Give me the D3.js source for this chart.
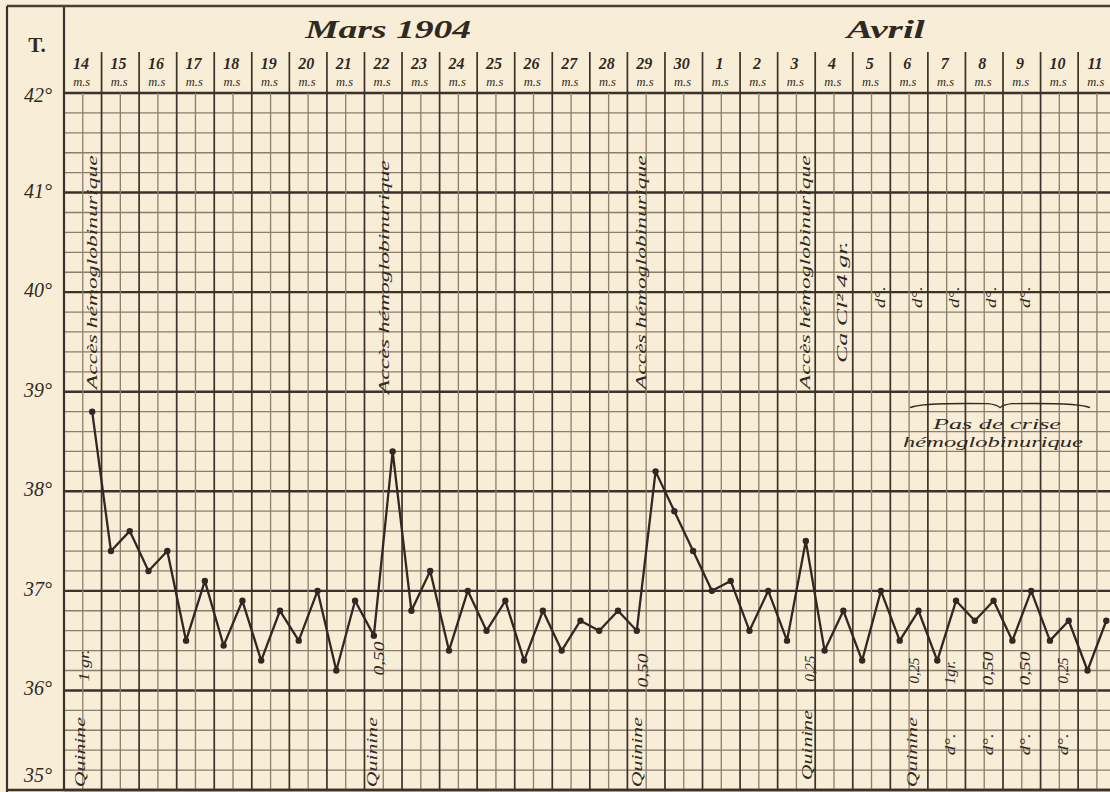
<!DOCTYPE html>
<html>
<head>
<meta charset="utf-8">
<script src="https://cdn.jsdelivr.net/npm/d3@7"></script>
<style>
  html, body { margin: 0; padding: 0; background: #f8edd6; }
  svg { display: block; }
  .hand { font-family: "Liberation Serif", "DejaVu Serif", serif; font-style: italic; fill: #2f2922; }
</style>
</head>
<body>
<svg id="chart" width="1110" height="792"></svg>
<script>
// Day columns of the sheet (March 14–30, April 1–11)
const days = ["14","15","16","17","18","19","20","21","22","23","24","25","26","27","28","29","30",
              "1","2","3","4","5","6","7","8","9","10","11"];
// Morning / evening temperatures, one pair per day (null = not taken)
const morning = [null,37.4,37.2,36.5,36.45,36.3,36.5,36.2,36.55,36.8,36.4,36.6,36.3,36.4,36.6,36.6,37.8,
                 37.0,36.6,36.5,36.4,36.3,36.5,36.3,36.7,36.5,36.5,36.2];
const evening = [38.8,37.6,37.4,37.1,36.9,36.8,37.0,36.9,38.4,37.2,37.0,36.9,36.8,36.7,36.8,38.2,37.4,
                 37.1,37.0,37.5,36.8,37.0,36.8,36.9,36.9,37.0,36.7,36.7];
const tempTicks = [35,36,37,38,39,40,41,42];
// Month headings, anchored on a day position
const months = [["Mars 1904", 8.63], ["Avril", 21.88]];

// Notes written upright: [day position, text, temperature at the middle of the text]
const crisisNotes = [
  [0.78,"Accès hémoglobinurique",40.2],
  [8.55,"Accès hémoglobinurique",40.15],
  [15.4,"Accès hémoglobinurique",40.2],
  [19.76,"Accès hémoglobinurique",40.2],
  [20.74,"Ca Cl² 4 gr.",39.9],
  [21.76,"d°.",39.95],[22.74,"d°.",39.95],[23.72,"d°.",39.95],[24.72,"d°.",39.95],[25.6,"d°.",39.95]
];
const doseNotes = [
  [0.45,"Quinine",35.38],[0.55,"1 gr.",36.25],
  [8.24,"Quinine",35.38],[8.42,"0,50",36.32],
  [15.27,"Quinine",35.38],[15.43,"0,50",36.2],
  [19.8,"Quinine",35.45],[19.9,"0,25",36.22],
  [22.6,"Quinine",35.38],[22.66,"0,25",36.2],
  [23.62,"1gr.",36.18],[23.62,"d°.",35.46],
  [24.64,"0,50",36.22],[24.62,"d°.",35.46],
  [25.62,"0,50",36.22],[25.62,"d°.",35.46],
  [26.62,"0,25",36.2],[26.62,"d°.",35.46]
];
const noteTitle = ["Pas de crise", "hémoglobinurique"];

// Stretched handwriting lengths (px) per kind of note
const noteLength = { "Accès hémoglobinurique": 234, "Ca Cl² 4 gr.": 122, "Quinine": 70,
                     "d°.": 22, "1 gr.": 32, "1gr.": 24, "0,50": 34, "0,25": 26 };

const svg = d3.select("#chart");
const ink = "#2f2922";
const nDays = days.length;

// Scales: day positions across, degrees up
const x = d3.scaleLinear().domain([0, nDays]).range([64, 64 + nDays * 37.56]);
const y = d3.scaleLinear().domain([35, 42]).range([790, 93]);
const slotX = (i, half) => x(i + half * 0.5 + 0.25);

// Sheet grid: fine lines every 0.2°, strong lines every degree
const g = svg.append("g");
const hLines = d3.range(0, 36).map(k => +(35 + k * 0.2).toFixed(1));
g.selectAll("line.h").data(hLines).join("line").attr("class", "h")
  .attr("x1", x(0)).attr("x2", 1110)
  .attr("y1", d => y(d)).attr("y2", d => y(d))
  .attr("stroke-width", d => Number.isInteger(d) ? 2.4 : 1.3)
  .attr("stroke", d => Number.isInteger(d) ? "#3b3229" : "#8a7e6c");

// Half-day verticals inside the plot, day verticals reaching up into the header
g.selectAll("line.vh").data(d3.range(nDays)).join("line").attr("class", "vh")
  .attr("x1", d => x(d + 0.5)).attr("x2", d => x(d + 0.5))
  .attr("y1", y(42)).attr("y2", y(35))
  .attr("stroke", "#8a7e6c").attr("stroke-width", 1.3);
g.selectAll("line.vd").data(d3.range(nDays + 1)).join("line").attr("class", "vd")
  .attr("x1", d => x(d)).attr("x2", d => x(d))
  .attr("y1", d => d === 0 ? 7 : 52).attr("y2", y(35))
  .attr("stroke", "#3b3229").attr("stroke-width", d => d === 0 ? 2.2 : 1.7);

// Frame
svg.append("line").attr("x1", 7).attr("x2", 1110).attr("y1", 6).attr("y2", 6)
  .attr("stroke", "#4a4036").attr("stroke-width", 2.5);
svg.append("line").attr("x1", 7).attr("x2", 7).attr("y1", 6).attr("y2", 792)
  .attr("stroke", "#3b3229").attr("stroke-width", 2.2);
svg.append("line").attr("x1", 7).attr("x2", 1110).attr("y1", 790).attr("y2", 790)
  .attr("stroke", "#3b3229").attr("stroke-width", 2.4);

// Header texts
svg.append("text").attr("class", "hand").attr("x", 37).attr("y", 52)
  .attr("text-anchor", "middle").attr("font-size", 21).attr("font-weight", "bold")
  .style("font-style", "normal").text("T.");
svg.selectAll("text.month").data(months).join("text").attr("class", "hand month")
  .attr("x", d => x(d[1])).attr("y", 38).attr("text-anchor", "middle")
  .attr("font-size", 25).attr("font-weight", "bold")
  .attr("textLength", d => d[0] === "Avril" ? 78 : 166).attr("lengthAdjust", "spacingAndGlyphs")
  .text(d => d[0]);
svg.selectAll("text.day").data(days).join("text").attr("class", "hand day")
  .attr("x", (d, i) => x(i + 0.45)).attr("y", 69).attr("text-anchor", "middle")
  .attr("font-size", 16).attr("font-weight", "bold").text(d => d);
svg.selectAll("text.ms").data(days).join("text").attr("class", "hand ms")
  .attr("x", (d, i) => x(i + 0.47)).attr("y", 86).attr("text-anchor", "middle")
  .attr("font-size", 12.5).text("m.s");

// Temperature labels in the left margin
svg.selectAll("text.tlab").data(tempTicks).join("text").attr("class", "hand tlab")
  .attr("x", 38).attr("y", d => d === 35 ? y(d) - 8 : y(d) + (d === 42 ? 9 : 5))
  .attr("text-anchor", "middle").attr("font-size", 20).text(d => d + "°");

// Rotated notes
function notes(list, size) {
  svg.append("g").selectAll("text").data(list).join("text").attr("class", "hand")
    .attr("font-size", size).attr("text-anchor", "middle")
    .attr("textLength", d => noteLength[d[1]]).attr("lengthAdjust", "spacingAndGlyphs")
    .attr("transform", d => `translate(${x(d[0]) + 4},${y(d[2])}) rotate(-90)`)
    .text(d => d[1]);
}
notes(crisisNotes, 14);
notes(doseNotes, 14);

// "Pas de crise hémoglobinurique" under its long brace
const bx0 = 910, bx1 = 1090, by = y(38.87);
const bm = (bx0 + bx1) / 2;
svg.append("path")
  .attr("d", `M${bx0},${by + 3} Q${bx0 + 10},${by - 2} ${bm - 12},${by - 1} Q${bm - 3},${by} ${bm},${by + 3} Q${bm + 3},${by} ${bm + 12},${by - 1} Q${bx1 - 10},${by - 2} ${bx1},${by + 3}`)
  .attr("fill", "none").attr("stroke", ink).attr("stroke-width", 1.3);
svg.append("text").attr("class", "hand").attr("x", 997).attr("y", y(38.68) + 5)
  .attr("text-anchor", "middle").attr("font-size", 14.5)
  .attr("textLength", 128).attr("lengthAdjust", "spacingAndGlyphs").text(noteTitle[0]);
svg.append("text").attr("class", "hand").attr("x", 993).attr("y", y(38.5) + 5)
  .attr("text-anchor", "middle").attr("font-size", 14.5)
  .attr("textLength", 180).attr("lengthAdjust", "spacingAndGlyphs").text(noteTitle[1]);

// Temperature curve
const pts = [];
days.forEach((d, i) => {
  if (morning[i] != null) pts.push({ x: slotX(i, 0), v: morning[i] });
  if (evening[i] != null) pts.push({ x: slotX(i, 1), v: evening[i] });
});
svg.append("path").datum(pts)
  .attr("d", d3.line().x(p => p.x).y(p => y(p.v)))
  .attr("fill", "none").attr("stroke", ink).attr("stroke-width", 2.3).attr("stroke-linejoin", "round");
svg.selectAll("circle.pt").data(pts).join("circle").attr("class", "pt")
  .attr("cx", p => p.x).attr("cy", p => y(p.v)).attr("r", 3.2).attr("fill", ink);
</script>
</body>
</html>
